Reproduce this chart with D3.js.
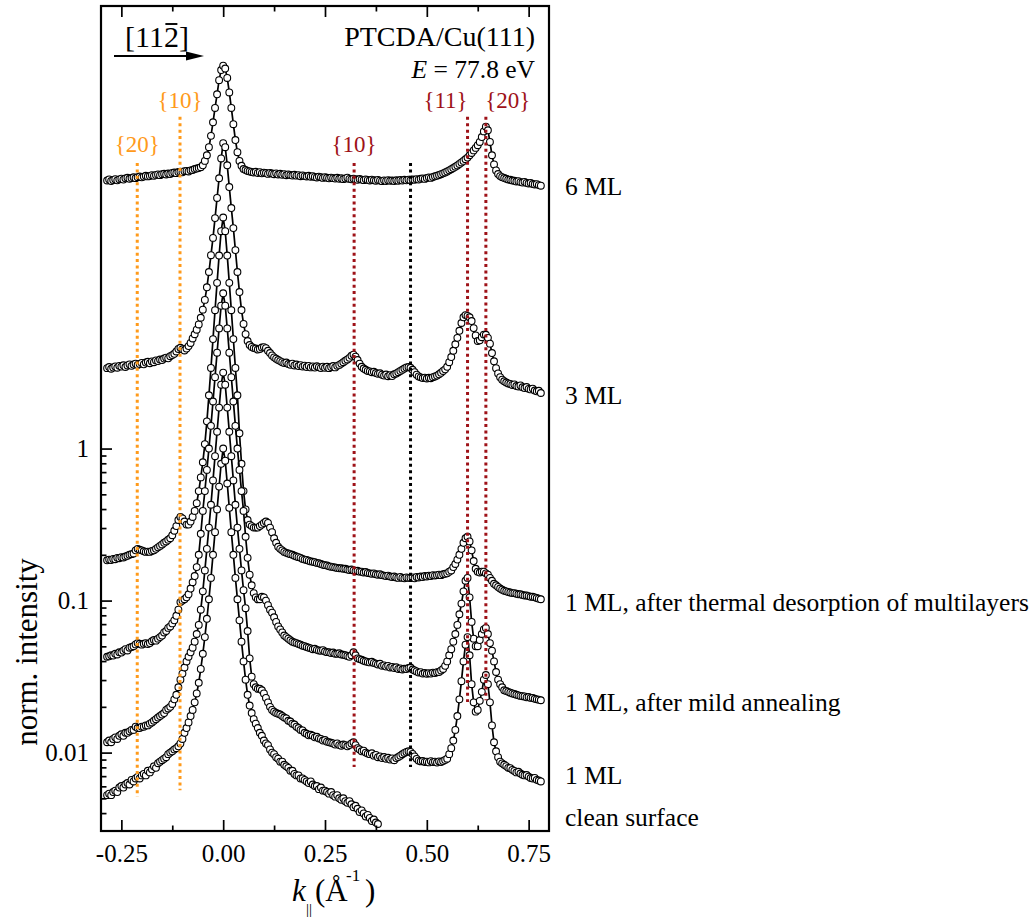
<!DOCTYPE html>
<html><head><meta charset="utf-8">
<script src="https://cdn.jsdelivr.net/npm/d3@7"></script>
<style>
body{margin:0;background:#fff}
svg{display:block}
text{font-family:"Liberation Serif","Times New Roman",serif;fill:#000}
</style>
</head><body>
<svg id="c" width="1035" height="918"></svg>
<script>
// ---------- data ----------
const kGrid = [
-0.285,-0.28,-0.275,-0.27,-0.265,-0.26,-0.255,-0.25,-0.245,-0.24,
-0.235,-0.23,-0.225,-0.22,-0.215,-0.21,-0.205,-0.2,-0.195,-0.19,
-0.185,-0.18,-0.175,-0.17,-0.165,-0.16,-0.155,-0.15,-0.145,-0.14,
-0.135,-0.13,-0.125,-0.12,-0.115,-0.11,-0.105,-0.1,-0.095,-0.09,
-0.085,-0.08,-0.075,-0.07,-0.065,-0.06,-0.055,-0.05,-0.045,-0.04,
-0.035,-0.03,-0.025,-0.02,-0.015,-0.01,-0.005,0,0.005,0.01,
0.015,0.02,0.025,0.03,0.035,0.04,0.045,0.05,0.055,0.06,
0.065,0.07,0.075,0.08,0.085,0.09,0.095,0.1,0.105,0.11,
0.115,0.12,0.125,0.13,0.135,0.14,0.145,0.15,0.155,0.16,
0.165,0.17,0.175,0.18,0.185,0.19,0.195,0.2,0.205,0.21,
0.215,0.22,0.225,0.23,0.235,0.24,0.245,0.25,0.255,0.26,
0.265,0.27,0.275,0.28,0.285,0.29,0.295,0.3,0.305,0.31,
0.315,0.32,0.325,0.33,0.335,0.34,0.345,0.35,0.355,0.36,
0.365,0.37,0.375,0.38,0.385,0.39,0.395,0.4,0.405,0.41,
0.415,0.42,0.425,0.43,0.435,0.44,0.445,0.45,0.455,0.46,
0.465,0.47,0.475,0.48,0.485,0.49,0.495,0.5,0.505,0.51,
0.515,0.52,0.525,0.53,0.535,0.54,0.545,0.55,0.555,0.56,
0.565,0.57,0.575,0.58,0.585,0.59,0.595,0.6,0.605,0.61,
0.615,0.62,0.625,0.63,0.635,0.64,0.645,0.65,0.655,0.66,
0.665,0.67,0.675,0.68,0.685,0.69,0.695,0.7,0.705,0.71,
0.715,0.72,0.725,0.73,0.735,0.74,0.745,0.75,0.755,0.76,
0.765,0.77,0.775,0.78];

const ml6 = [
58.0,58.9,57.6,58.4,59.2,58.1,59.0,59.6,58.8,59.9,
60.4,59.5,60.2,60.9,60.1,61.0,61.6,60.8,61.5,62.3,
61.7,62.0,62.9,62.2,63.1,63.6,62.9,63.8,64.2,63.5,
64.4,64.0,65.0,65.4,64.8,65.9,66.2,65.6,66.8,67.0,
66.5,67.6,68.0,69,69.5,70,71,73,78,85,
96,114,140,174,214,265,309,330,316,274,
220,174,136,107,89,78,72.5,69,68,67,
66.5,66,65.5,66.2,65.0,65.8,64.6,65.3,64.9,64.1,
65.0,64.4,63.8,64.6,63.5,64.2,63.3,63.9,62.8,63.6,
63.0,62.5,63.2,62.4,62.9,61.9,62.6,62.0,61.6,62.3,
61.4,61.9,61.2,60.7,61.5,60.9,60.3,61.0,60.4,59.9,
60.6,60.1,59.7,60.4,59.5,60.0,59.2,59.8,60.5,59.4,
59.0,59.6,59.1,58.6,59.3,58.8,58.3,59.0,58.5,58.0,
58.7,58.2,57.8,58.5,57.9,57.4,58.1,57.6,58.3,57.7,
58.0,57.5,58.2,57.8,58.4,57.9,58.6,58.1,58.8,58.3,
59.0,58.6,59.2,58.8,59.5,59.9,59.4,60.2,60.8,60.3,
61.2,61.8,62.4,63.0,63.8,64.6,65.5,66.5,67.6,68.8,
70.0,71.4,72.8,74.5,76.2,78.0,80.0,82.0,85.0,88.0,
91.5,95.0,99.0,104,112,122,131,124,104,85,
74,67.5,64,62,61,60.2,59.5,58.8,58.6,58.0,
57.7,57.1,57.4,56.6,56.2,56.8,55.9,55.4,55.9,55.0,
54.6,54.9,54.1,53.6];

const ml3 = [
3.38,3.44,3.35,3.41,3.47,3.40,3.50,3.46,3.53,3.44,
3.52,3.58,3.50,3.57,3.62,3.55,3.60,3.66,3.58,3.68,
3.72,3.64,3.74,3.70,3.80,3.76,3.85,3.82,3.91,3.96,
3.92,4.05,4.12,4.20,4.35,4.52,4.60,4.50,4.42,4.55,
4.72,4.95,5.30,5.65,6.05,6.55,7.25,8.20,9.50,11.5,
14.5,18.7,24.3,32.8,44.5,60.0,81.0,102,96,73,
52.5,38.2,28.2,20.2,14.5,10.7,8.15,6.60,5.66,5.10,
4.80,4.66,4.58,4.55,4.48,4.52,4.62,4.65,4.58,4.40,
4.25,4.10,3.98,3.90,3.82,3.76,3.70,3.65,3.68,3.60,
3.56,3.62,3.52,3.57,3.49,3.54,3.46,3.51,3.44,3.50,
3.42,3.47,3.41,3.48,3.43,3.39,3.46,3.40,3.45,3.38,
3.44,3.49,3.42,3.50,3.55,3.62,3.70,3.78,3.86,3.95,
4.08,4.15,4.02,3.82,3.62,3.45,3.36,3.30,3.24,3.22,
3.18,3.20,3.14,3.10,3.13,3.06,3.02,3.07,2.99,3.04,
3.00,3.08,3.12,3.18,3.24,3.30,3.36,3.42,3.44,3.40,
3.30,3.18,3.06,2.98,2.94,2.91,2.93,2.89,2.92,2.90,
2.95,2.98,3.02,3.08,3.15,3.24,3.32,3.45,3.70,4.00,
4.40,4.85,5.35,5.95,6.70,7.30,7.55,7.45,7.30,6.90,
6.20,5.55,5.10,5.15,5.40,5.62,5.60,5.35,4.90,4.25,
3.75,3.38,3.12,2.95,2.84,2.77,2.72,2.68,2.66,2.62,
2.64,2.58,2.56,2.60,2.53,2.50,2.54,2.47,2.45,2.48,
2.41,2.38,2.40,2.32];

const ml1Desorbed = [
0.184,0.186,0.185,0.188,0.187,0.191,0.190,0.193,0.192,0.195,
0.197,0.200,0.202,0.204,0.214,0.219,0.216,0.214,0.211,0.209,
0.210,0.209,0.212,0.214,0.219,0.224,0.229,0.234,0.240,0.245,
0.251,0.257,0.269,0.288,0.309,0.339,0.355,0.347,0.331,0.316,
0.316,0.331,0.355,0.389,0.437,0.525,0.646,0.813,1.07,1.51,
2.24,3.39,5.25,8.13,12.3,18.6,26.9,33.1,26.9,18.6,
12.3,8.13,5.25,3.39,2.24,1.26,0.794,0.525,0.398,0.339,
0.316,0.309,0.302,0.302,0.302,0.309,0.316,0.324,0.331,0.324,
0.302,0.282,0.257,0.240,0.226,0.219,0.214,0.209,0.206,0.204,
0.202,0.200,0.197,0.195,0.193,0.191,0.188,0.186,0.185,0.183,
0.181,0.180,0.179,0.177,0.176,0.174,0.172,0.171,0.170,0.168,
0.167,0.166,0.165,0.164,0.163,0.163,0.162,0.162,0.160,0.159,
0.160,0.158,0.156,0.157,0.155,0.155,0.153,0.154,0.152,0.151,
0.150,0.151,0.149,0.148,0.149,0.147,0.146,0.145,0.146,0.144,
0.143,0.144,0.142,0.141,0.143,0.141,0.140,0.142,0.141,0.141,
0.142,0.140,0.143,0.142,0.144,0.143,0.145,0.144,0.146,0.145,
0.147,0.146,0.147,0.148,0.147,0.149,0.150,0.151,0.155,0.158,
0.166,0.174,0.186,0.200,0.219,0.240,0.257,0.263,0.245,0.214,
0.182,0.162,0.155,0.153,0.155,0.155,0.151,0.148,0.141,0.135,
0.129,0.126,0.123,0.120,0.118,0.116,0.115,0.114,0.113,0.112,
0.112,0.111,0.110,0.110,0.109,0.108,0.108,0.107,0.106,0.106,
0.105,0.104,0.103,0.102];

const ml1Annealed = [
0.0427,0.0430,0.0437,0.0435,0.0447,0.0442,0.0457,0.0455,0.0468,0.0479,
0.0470,0.0490,0.0495,0.0501,0.0515,0.0525,0.0520,0.0513,0.0520,0.0525,
0.0518,0.0525,0.0540,0.0550,0.0545,0.0562,0.0575,0.0589,0.0617,0.0631,
0.0661,0.0676,0.0708,0.0741,0.0794,0.0871,0.0977,0.100,0.102,0.105,
0.110,0.120,0.132,0.145,0.166,0.200,0.275,0.389,0.525,0.724,
1.00,1.41,2.04,2.95,4.27,6.17,8.71,10.5,8.71,6.17,
4.27,2.95,2.04,1.41,1.00,0.724,0.525,0.389,0.263,0.191,
0.148,0.126,0.112,0.105,0.102,0.102,0.106,0.105,0.100,0.0933,
0.0871,0.0832,0.0776,0.0724,0.0676,0.0646,0.0617,0.0589,0.0575,0.0562,
0.0548,0.0537,0.0530,0.0525,0.0518,0.0513,0.0505,0.0501,0.0495,0.0490,
0.0485,0.0479,0.0482,0.0474,0.0470,0.0468,0.0472,0.0462,0.0458,0.0457,
0.0452,0.0455,0.0447,0.0447,0.0450,0.0442,0.0440,0.0437,0.0432,0.0427,
0.0437,0.0457,0.0437,0.0417,0.0412,0.0408,0.0402,0.0398,0.0395,0.0392,
0.0396,0.0389,0.0385,0.0380,0.0384,0.0372,0.0375,0.0368,0.0372,0.0363,
0.0366,0.0360,0.0364,0.0355,0.0358,0.0352,0.0356,0.0355,0.0360,0.0363,
0.0352,0.0347,0.0342,0.0336,0.0338,0.0331,0.0334,0.0330,0.0333,0.0331,
0.0336,0.0334,0.0338,0.0339,0.0347,0.0355,0.0372,0.0398,0.0437,0.0479,
0.0537,0.0603,0.0692,0.0813,0.0955,0.115,0.135,0.141,0.105,0.0724,
0.0562,0.0501,0.0501,0.0550,0.0603,0.0646,0.0661,0.0603,0.0525,0.0468,
0.0398,0.0339,0.0302,0.0282,0.0269,0.0257,0.0254,0.0251,0.0248,0.0245,
0.0243,0.0240,0.0238,0.0236,0.0235,0.0234,0.0231,0.0232,0.0229,0.0229,
0.0226,0.0224,0.0223,0.0221];

const ml1 = [
0.0117,0.0120,0.0117,0.0123,0.0126,0.0123,0.0129,0.0132,0.0129,0.0135,
0.0135,0.0138,0.0141,0.0141,0.0148,0.0145,0.0145,0.0148,0.0148,0.0151,
0.0151,0.0155,0.0158,0.0162,0.0166,0.0170,0.0174,0.0178,0.0182,0.0191,
0.0195,0.0200,0.0209,0.0224,0.0240,0.0269,0.0302,0.0331,0.0363,0.0398,
0.0427,0.0457,0.0490,0.0537,0.0603,0.0692,0.0871,0.115,0.158,0.219,
0.302,0.427,0.617,0.891,1.29,1.86,2.63,3.16,2.63,1.86,
1.29,0.891,0.617,0.427,0.302,0.219,0.158,0.117,0.0891,0.0631,
0.0417,0.0316,0.0282,0.0269,0.0263,0.0263,0.0257,0.0245,0.0229,0.0214,
0.0200,0.0191,0.0186,0.0182,0.0180,0.0178,0.0174,0.0170,0.0168,0.0162,
0.0160,0.0155,0.0153,0.0148,0.0145,0.0141,0.0140,0.0135,0.0133,0.0130,
0.0131,0.0129,0.0126,0.0127,0.0124,0.0123,0.0120,0.0121,0.0118,0.0117,
0.0116,0.0115,0.0113,0.0115,0.0112,0.0111,0.0113,0.0112,0.0110,0.0112,
0.0115,0.0117,0.0112,0.0107,0.0105,0.0102,0.0103,0.0100,0.00985,0.00977,
0.00990,0.00955,0.00965,0.00933,0.00945,0.00920,0.00935,0.00912,0.00925,0.00900,
0.00915,0.00891,0.00920,0.00935,0.00955,0.00975,0.00995,0.0101,0.0102,0.0101,
0.00980,0.00945,0.00910,0.00885,0.00875,0.00880,0.00868,0.00871,0.00862,0.00878,
0.00866,0.00871,0.00860,0.00875,0.00868,0.00880,0.00895,0.00912,0.00977,0.0107,
0.0120,0.0141,0.0174,0.0224,0.0295,0.0398,0.0513,0.0575,0.0437,0.0282,
0.0214,0.0186,0.0191,0.0219,0.0251,0.0302,0.0324,0.0282,0.0214,0.0151,
0.0117,0.0102,0.00933,0.00871,0.00850,0.00832,0.00815,0.00794,0.00790,0.00770,
0.00758,0.00741,0.00748,0.00728,0.00715,0.00708,0.00712,0.00695,0.00680,0.00676,
0.00682,0.00662,0.00655,0.00646];

const cleanSurface = [
0.00525,0.00537,0.00525,0.00550,0.00562,0.00550,0.00589,0.00603,0.00589,0.00617,
0.00631,0.00617,0.00661,0.00646,0.00676,0.00692,0.00676,0.00708,0.00724,0.00708,
0.00759,0.00741,0.00776,0.00813,0.00794,0.00851,0.00871,0.00891,0.00912,0.00933,
0.00977,0.0100,0.0102,0.0105,0.0107,0.0110,0.0115,0.0123,0.0135,0.0145,
0.0158,0.0174,0.0191,0.0214,0.0245,0.0288,0.0355,0.0447,0.0575,0.0759,
0.102,0.141,0.200,0.282,0.398,0.562,0.794,1.00,0.832,0.589,
0.407,0.282,0.200,0.141,0.102,0.0741,0.0537,0.0398,0.0302,0.0240,
0.0204,0.0182,0.0166,0.0155,0.0145,0.0135,0.0129,0.0120,0.0115,0.0112,
0.0105,0.0100,0.00977,0.00933,0.00912,0.00871,0.00871,0.00832,0.00813,0.00794,
0.00759,0.00759,0.00724,0.00708,0.00708,0.00676,0.00676,0.00661,0.00646,0.00631,
0.00646,0.00617,0.00603,0.00603,0.00575,0.00589,0.00562,0.00562,0.00550,0.00537,
0.00550,0.00525,0.00513,0.00525,0.00501,0.00490,0.00501,0.00479,0.00468,0.00479,
0.00457,0.00437,0.00447,0.00427,0.00407,0.00417,0.00398,0.00380,0.00389,0.00372,
0.00355,0.00363,0.00347,0.00339];

const seriesNames = ["6 ML","3 ML","1 ML, after thermal desorption of multilayers","1 ML, after mild annealing","1 ML","clean surface"];
const seriesValues = [ml6, ml3, ml1Desorbed, ml1Annealed, ml1, cleanSurface];

const xTicks = [-0.25, 0, 0.25, 0.5, 0.75];
const xTickLabels = ["-0.25","0.00","0.25","0.50","0.75"];
const xMinorTicks = [-0.125, 0.125, 0.375, 0.625];
const yTicks = [1, 0.1, 0.01];
const yTickLabels = ["1","0.1","0.01"];

// reference positions (k) with their marker labels
const refK = [-0.211, -0.106, 0.3215, 0.46, 0.600, 0.645];
const refNames = ["{20}","{10}","{10}","","{11}","{20}"];
const refTop = [75.5, 152, 75.5, 75.5, 152, 152];
const refBottom = [0.0051, 0.00566, 0.00803, 0.00803, 0.0215, 0.0221];

// ---------- layout ----------
const M = {l:101, r:549, t:6, b:831};
const orange = "#FF9A1A", darkred = "#9E1218";
const refColor = [orange, orange, darkred, "#000", darkred, darkred];
const refLabelDx = [0, 0, 0, 0, -22, 22];
const refLabelY = [152, 108, 152, 0, 108, 108];
const labelBaselines = [195, 404, 611, 711, 784, 826];

const svg = d3.select("#c");
const x = d3.scaleLinear().domain([-0.3, 0.8]).range([M.l, M.r]);
const y = d3.scaleLog().domain([0.00305, 815]).range([M.b, M.t]);

// curves
const line = d3.line().x(d => x(d.k)).y(d => y(d.v));
const gCurves = svg.append("g");
seriesValues.forEach((vals, si) => {
  const pts = vals.map((v, i) => ({k: kGrid[i], v}));
  const g = gCurves.append("g");
  g.append("path").datum(pts).attr("d", line)
    .attr("fill","none").attr("stroke","#000").attr("stroke-width",1.7);
  g.selectAll("circle").data(pts).join("circle")
    .attr("cx", d => x(d.k)).attr("cy", d => y(d.v)).attr("r", 3.4)
    .attr("fill","#fff").attr("stroke","#000").attr("stroke-width",1.1);
});

// reference dotted lines
refK.forEach((k, i) => {
  svg.append("line").attr("x1", x(k)).attr("x2", x(k))
    .attr("y1", y(refTop[i])).attr("y2", y(refBottom[i]))
    .attr("stroke", refColor[i]).attr("stroke-width", 3)
    .attr("stroke-dasharray", "3,3.4");
  if (refNames[i]) {
    svg.append("text").attr("x", x(k) + refLabelDx[i]).attr("y", refLabelY[i])
      .attr("text-anchor","middle").style("font-size","23px")
      .style("fill", refColor[i]).text(refNames[i]);
  }
});

// axes
function styleAxis(g){
  g.select(".domain").remove();
  g.selectAll(".tick line").attr("stroke","#000").attr("stroke-width",1.7);
  g.selectAll(".tick text").style("font-size","25px").style("font-family",'"Liberation Serif","Times New Roman",serif').attr("fill","#000");
}
svg.append("g").attr("transform",`translate(0,${M.b})`)
  .call(d3.axisBottom(x).tickValues(xTicks).tickFormat((d,i)=>xTickLabels[i]).tickSize(-11).tickPadding(13))
  .call(styleAxis);
svg.append("g").attr("transform",`translate(0,${M.b})`)
  .call(d3.axisBottom(x).tickValues(xMinorTicks).tickFormat("").tickSize(-5.5))
  .call(styleAxis);
svg.append("g").attr("transform",`translate(0,${M.t})`)
  .call(d3.axisTop(x).tickValues(xTicks).tickFormat("").tickSize(-11))
  .call(styleAxis);
svg.append("g").attr("transform",`translate(0,${M.t})`)
  .call(d3.axisTop(x).tickValues(xMinorTicks).tickFormat("").tickSize(-5.5))
  .call(styleAxis);
svg.append("g").attr("transform",`translate(${M.l},0)`)
  .call(d3.axisLeft(y).tickValues(yTicks).tickFormat((d,i)=>yTickLabels[i]).tickSize(-11).tickPadding(12))
  .call(styleAxis);
const yMinor = [];
yTicks.forEach(t => { for (let m = 2; m <= 9; m++) { const v = t * m / 10; if (v > y.domain()[0]) yMinor.push(v); } });
svg.append("g").attr("transform",`translate(${M.l},0)`)
  .call(d3.axisLeft(y).tickValues(yMinor).tickFormat("").tickSize(-5.5))
  .call(styleAxis);

// frame
svg.append("rect").attr("x",M.l).attr("y",M.t).attr("width",M.r-M.l).attr("height",M.b-M.t)
  .attr("fill","none").attr("stroke","#000").attr("stroke-width",2.2);

// axis titles
const xt = svg.append("text").attr("y",901).style("font-size","31px");
xt.append("tspan").attr("x",292).style("font-style","italic").text("k");
xt.append("tspan").attr("x",306).attr("dy",13).style("font-size","15px").text("||");
xt.append("tspan").attr("x",315).attr("dy",-13).text("(Å");
xt.append("tspan").attr("x",346).attr("dy",-20).style("font-size","17px").text("-1");
xt.append("tspan").attr("x",365).attr("dy",20).text(")");

svg.append("text").attr("transform","translate(37,652) rotate(-90)")
  .attr("text-anchor","middle").style("font-size","31px").text("norm. intensity");

// in-plot annotations
const dirText = svg.append("text").attr("x",125).attr("y",47).style("font-size","30px").text("[112]");
const dn = dirText.node();
const bx0 = dn.getStartPositionOfChar(3).x, bx1 = dn.getEndPositionOfChar(3).x;
svg.append("line").attr("x1",bx0+1.5).attr("x2",bx1-1.5).attr("y1",24).attr("y2",24)
  .attr("stroke","#000").attr("stroke-width",1.9);
svg.append("line").attr("x1",114).attr("x2",190).attr("y1",56).attr("y2",56)
  .attr("stroke","#000").attr("stroke-width",2.2);
svg.append("path").attr("d","M186,51.5L204,56L186,60.5Z").attr("fill","#000");

svg.append("text").attr("x",535).attr("y",46).attr("text-anchor","end")
  .style("font-size","28px").text("PTCDA/Cu(111)");
const et = svg.append("text").attr("x",535).attr("y",78).attr("text-anchor","end").style("font-size","25.5px");
et.append("tspan").style("font-style","italic").text("E");
et.append("tspan").text(" = 77.8 eV");

// series labels on the right
seriesNames.forEach((n, i) => {
  svg.append("text").attr("x",565).attr("y",labelBaselines[i]).style("font-size","25.5px").text(n);
});
</script>
</body></html>
